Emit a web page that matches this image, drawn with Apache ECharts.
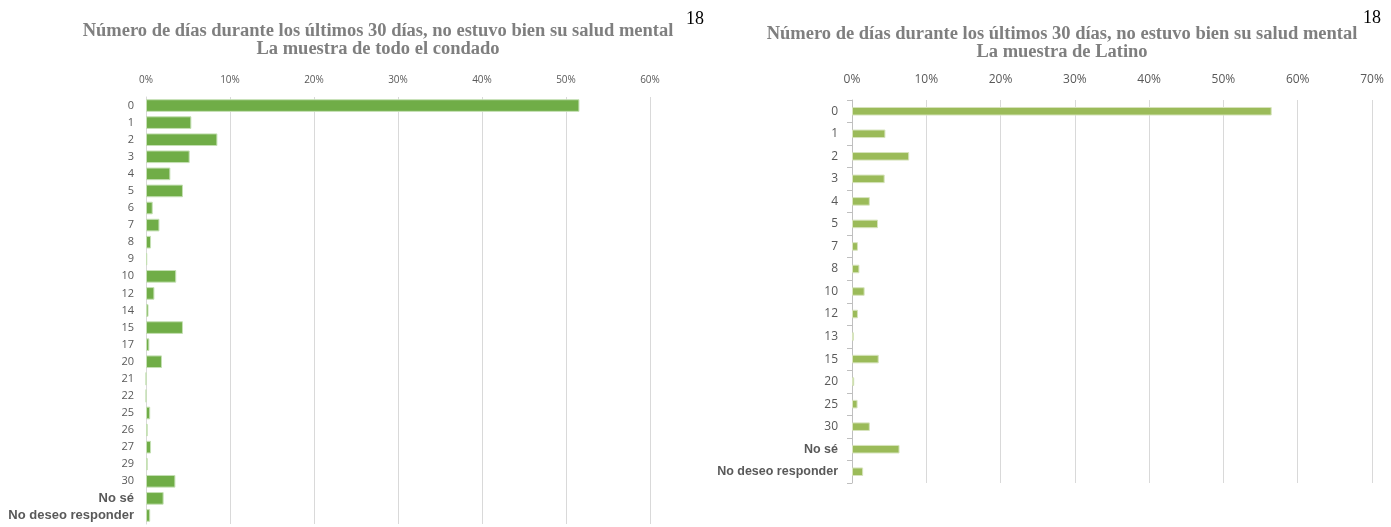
<!DOCTYPE html>
<html>
<head>
<meta charset="utf-8">
<script src="https://cdn.jsdelivr.net/npm/echarts@6/dist/echarts.min.js"></script>
<style>
  html, body { margin: 0; padding: 0; background: #fff; }
  #main { width: 1391px; height: 527px; }
</style>
</head>
<body>
<div id="main"></div>
<script>
// 全县样本
const leftCats = ['0', '1', '2', '3', '4', '5', '6', '7', '8', '9', '10', '12', '14', '15', '17', '20', '21', '22', '25', '26', '27', '29', '30', 'No sé', 'No deseo responder']
const leftVals = [51.6, 5.4, 8.5, 5.2, 2.9, 4.4, 0.8, 1.6, 0.6, 0.15, 3.6, 1.0, 0.3, 4.4, 0.4, 1.9, 0, 0, 0.5, 0.2, 0.6, 0.2, 3.5, 2.1, 0.5]
// 拉丁裔样本
const rightCats = ['0', '1', '2', '3', '4', '5', '7', '8', '10', '12', '13', '15', '20', '25', '30', 'No sé', 'No deseo responder']
const rightVals = [56.5, 4.5, 7.7, 4.4, 2.4, 3.5, 0.8, 1.0, 1.7, 0.8, 0.25, 3.6, 0.3, 0.75, 2.4, 6.4, 1.5]

const titleLine1 = 'Número de días durante los últimos 30 días, no estuvo bien su salud mental'
const leftSub = 'La muestra de todo el condado'
const rightSub = 'La muestra de Latino'

const gray = '#595959'
const boldCats = ['No sé', 'No deseo responder']

const catFormatter = (v) => boldCats.includes(v) ? '{b|' + v + '}' : v

const chart = echarts.init(document.getElementById('main'))

const titleStyle = (text) => ({
  text: text,
  align: 'center',
  verticalAlign: 'top',
  fill: '#7f7f7f',
  font: 'bold 18.5px "Liberation Serif"',
  lineHeight: 18
})

const option = {
  animation: false,
  grid: [
    { left: 146, top: 97, width: 504, height: 427 },
    { left: 852, top: 100, width: 520, height: 383 }
  ],
  xAxis: [
    {
      gridIndex: 0,
      type: 'value',
      position: 'top',
      min: 0,
      max: 60,
      interval: 10,
      axisLine: { show: false },
      axisTick: { show: false },
      axisLabel: { formatter: '{value}%', color: gray, fontSize: 10, margin: 12, fontFamily: 'Liberation Sans Narrow, Open Sans' },
      splitLine: { lineStyle: { color: '#d9d9d9' } }
    },
    {
      gridIndex: 1,
      type: 'value',
      position: 'top',
      min: 0,
      max: 70,
      interval: 10,
      axisLine: { show: false },
      axisTick: { show: false },
      axisLabel: { formatter: '{value}%', color: gray, fontSize: 12, margin: 14, fontFamily: 'Liberation Sans Narrow, Open Sans' },
      splitLine: { lineStyle: { color: '#d9d9d9' } }
    }
  ],
  yAxis: [
    {
      gridIndex: 0,
      type: 'category',
      data: leftCats,
      inverse: true,
      axisLine: { show: true, lineStyle: { color: '#d9d9d9' } },
      axisTick: { show: false },
      axisLabel: {
        color: gray,
        fontSize: 11,
        margin: 12,
        interval: 0,
        fontFamily: 'Open Sans',
        formatter: catFormatter,
        rich: { b: { fontWeight: 'bold', color: gray, fontSize: 13, fontFamily: 'Liberation Sans' } }
      }
    },
    {
      gridIndex: 1,
      type: 'category',
      data: rightCats,
      inverse: true,
      axisLine: { show: true, lineStyle: { color: '#bfbfbf' } },
      axisTick: { show: true, length: 5, lineStyle: { color: '#bfbfbf' } },
      axisLabel: {
        color: gray,
        fontSize: 12,
        margin: 14,
        interval: 0,
        fontFamily: 'Open Sans',
        formatter: catFormatter,
        rich: { b: { fontWeight: 'bold', color: gray, fontSize: 12.5, fontFamily: 'Liberation Sans' } }
      }
    }
  ],
  series: [
    {
      type: 'bar',
      xAxisIndex: 0,
      yAxisIndex: 0,
      data: leftVals,
      barCategoryGap: '26%',
      itemStyle: { color: '#70AD47', borderColor: '#c5e0b4', borderWidth: 1 }
    },
    {
      type: 'bar',
      xAxisIndex: 1,
      yAxisIndex: 1,
      data: rightVals,
      barCategoryGap: '62%',
      itemStyle: { color: '#9BBB59', borderColor: '#d7e4bd', borderWidth: 1 }
    }
  ],
  graphic: [
    { type: 'text', x: 378, y: 22, style: titleStyle(titleLine1 + '\n' + leftSub) },
    { type: 'text', x: 1062, y: 25, style: titleStyle(titleLine1 + '\n' + rightSub) },
    {
      type: 'text', x: 686, y: 10,
      style: { text: '18', fill: '#000', font: '18px "Liberation Serif"' }
    },
    {
      type: 'text', x: 1363, y: 9,
      style: { text: '18', fill: '#000', font: '18px "Liberation Serif"' }
    }
  ]
}

chart.setOption(option)
</script>
</body>
</html>
